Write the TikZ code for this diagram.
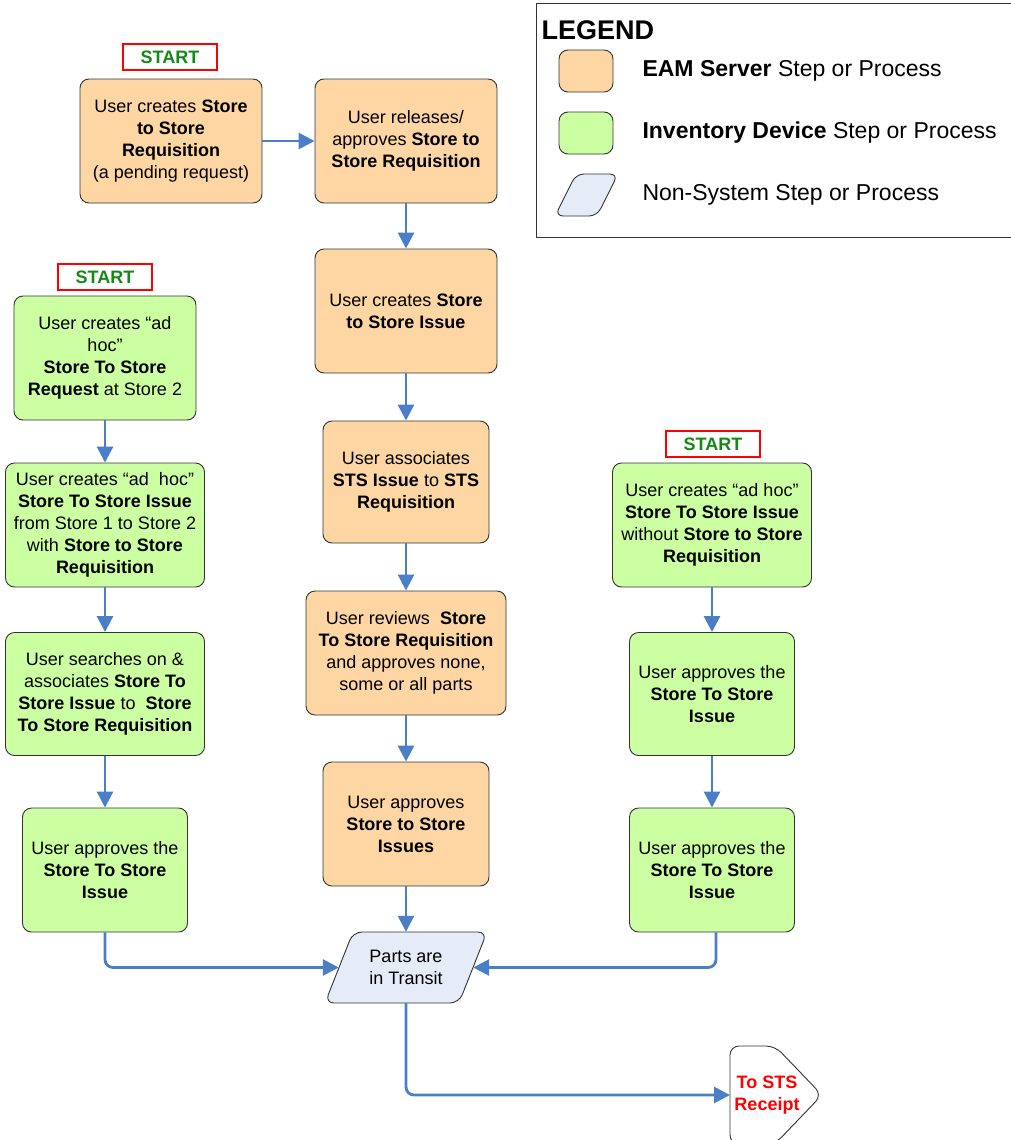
\documentclass[tikz,border=0pt]{standalone}
\usepackage{fontspec}
\setmainfont{Liberation Sans}
\usetikzlibrary{arrows.meta}
\definecolor{eamfill}{HTML}{FDD6A4}
\definecolor{devfill}{HTML}{CCFFA2}
\definecolor{nsfill}{HTML}{E6ECF7}
\definecolor{flowblue}{HTML}{4A7EC7}
\definecolor{startgreen}{HTML}{138A13}

\begin{document}
\begin{tikzpicture}[x=1pt,y=-1pt,
  font=\fontsize{18}{22}\selectfont,
  box/.style={draw=black!80, line width=0.9pt, rounded corners=9pt, align=center, inner sep=0pt},
  eam/.style={box, fill=eamfill},
  dev/.style={box, fill=devfill},
  startbox/.style={draw=red, line width=1.2pt, fill=white, text=startgreen,
    font=\fontsize{18}{20}\selectfont\bfseries, minimum width=94pt, minimum height=26pt, inner sep=0pt},
  flow/.style={draw=flowblue, line width=2.8pt, rounded corners=8pt, -{Triangle[length=16pt,width=16pt]}}]

\useasboundingbox (0,0) rectangle (1010,1140);

% legend
\draw[black!80, line width=0.9pt] (536,3) rectangle (1014,237);
\node[anchor=west, font=\fontsize{27}{29}\selectfont\bfseries] (legend) at (538,30) {LEGEND};
\node[eam, minimum width=54pt, minimum height=42pt] (keyeam) at (586,71) {};
\node[dev, minimum width=54pt, minimum height=42pt] (keydev) at (586,133) {};
\draw[black!80, line width=0.9pt, fill=nsfill, rounded corners=8pt]
  (576,174) -- (618,174) -- (597,216) -- (555,216) -- cycle;
\begin{scope}[font=\fontsize{23}{26}\selectfont]
\node[anchor=west] (txteam) at (639,71) {\textbf{EAM Server} Step or Process};
\node[anchor=west] (txtdev) at (639,133) {\textbf{Inventory Device} Step or Process};
\node[anchor=west] (txtns) at (639,195) {Non-System Step or Process};
\end{scope}

% middle column
\node[startbox] (start1) at (170,57) {START};
\node[eam, minimum width=182pt, minimum height=124pt] (a) at (171,141)
  {User creates \textbf{Store}\\ \textbf{to Store}\\ \textbf{Requisition}\\ (a pending request)};
\node[eam, minimum width=182pt, minimum height=124pt] (b) at (406,141)
  {User releases/\\ approves \textbf{Store to}\\ \textbf{Store Requisition}};
\node[eam, minimum width=182pt, minimum height=124pt] (c) at (406,311)
  {User creates \textbf{Store}\\ \textbf{to Store Issue}};
\node[eam, minimum width=166pt, minimum height=122pt] (d) at (406,482)
  {User associates\\ \textbf{STS Issue} to \textbf{STS}\\ \textbf{Requisition}};
\node[eam, minimum width=200pt, minimum height=124pt] (e) at (406,653)
  {User reviews \ \textbf{Store}\\ \textbf{To Store Requisition}\\ and approves none,\\ some or all parts};
\node[eam, minimum width=166pt, minimum height=124pt] (f) at (406,824)
  {User approves\\ \textbf{Store to Store}\\ \textbf{Issues}};

% left column
\node[startbox] (start2) at (105,277) {START};
\node[dev, minimum width=182pt, minimum height=124pt] (l1) at (105,358)
  {User creates “ad\\ hoc”\\ \textbf{Store To Store}\\ \textbf{Request} at Store 2};
\node[dev, minimum width=199pt, minimum height=124pt] (l2) at (105,525)
  {User creates “ad \ hoc”\\ \textbf{Store To Store Issue}\\ from Store 1 to Store 2\\ with \textbf{Store to Store}\\ \textbf{Requisition}};
\node[dev, minimum width=199pt, minimum height=123pt] (l3) at (105,694)
  {User searches on \&\\ associates \textbf{Store To}\\ \textbf{Store Issue} to \ \textbf{Store}\\ \textbf{To Store Requisition}};
\node[dev, minimum width=165pt, minimum height=124pt] (l4) at (105,870)
  {User approves the\\ \textbf{Store To Store}\\ \textbf{Issue}};

% right column
\node[startbox] (start3) at (713,444) {START};
\node[dev, minimum width=199pt, minimum height=124pt] (r1) at (712,525)
  {User creates “ad hoc”\\ \textbf{Store To Store Issue}\\ without \textbf{Store to Store}\\ \textbf{Requisition}};
\node[dev, minimum width=165pt, minimum height=123pt] (r2) at (712,694)
  {User approves the\\ \textbf{Store To Store}\\ \textbf{Issue}};
\node[dev, minimum width=165pt, minimum height=124pt] (r3) at (712,870)
  {User approves the\\ \textbf{Store To Store}\\ \textbf{Issue}};

% parts in transit
\draw[black!80, line width=0.9pt, fill=nsfill, rounded corners=9pt]
  (353,932) -- (487,932) -- (459,1003) -- (325,1003) -- cycle;
\node[align=center, inner sep=0pt, minimum width=134pt, minimum height=71pt] (p) at (406,967.5)
  {Parts are\\ in Transit};

% off page connector
\draw[black!80, line width=0.9pt, fill=white, rounded corners=9pt]
  (730,1046) -- (775,1046) -- (822,1095) -- (775,1144) -- (730,1144) -- cycle;
\coordinate (recv) at (730,1095);
\node[align=center, inner sep=0pt, text=red, font=\fontsize{18}{22}\selectfont\bfseries] (recvtxt) at (767,1095)
  {To STS\\ Receipt};

% connectors
\draw[flow] (a) -- (b);
\draw[flow] (b) -- (c);
\draw[flow] (c) -- (d);
\draw[flow] (d) -- (e);
\draw[flow] (e) -- (f);
\draw[flow] (f) -- (p.north);
\draw[flow] (l1) -- (l2);
\draw[flow] (l2) -- (l3);
\draw[flow] (l3) -- (l4);
\draw[flow] (r1) -- (r2);
\draw[flow] (r2) -- (r3);
\draw[flow] (l4.south) |- (p.west);
\draw[flow] ([xshift=4]r3.south) |- (p.east);
\draw[flow] (p.south) |- (recv);

\end{tikzpicture}
\end{document}
